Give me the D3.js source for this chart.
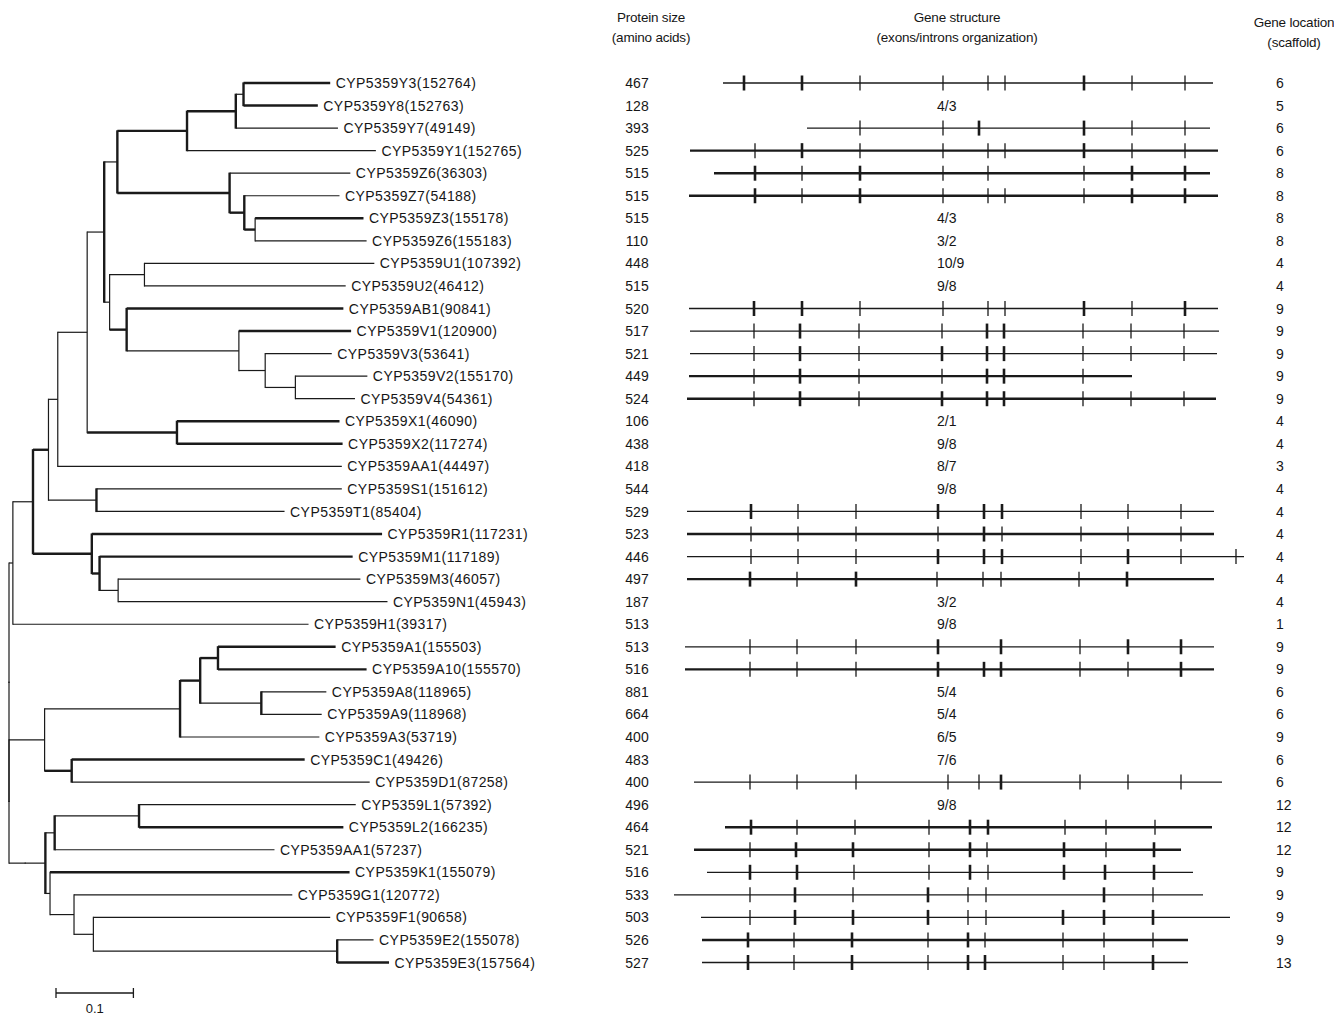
<!DOCTYPE html>
<html>
<head>
<meta charset="utf-8">
<script src="https://cdn.jsdelivr.net/npm/d3@7"></script>
<style>
  body { margin: 0; background: #fff; }
  text { font-family: "Liberation Sans", Arial, sans-serif; fill: #161616; }
</style>
</head>
<body>
<svg id="chart" width="1334" height="1018"></svg>
<script>
// tree (newick, branch lengths in substitutions/site), leaf = name|protein id
var newick =
  "(((((((((((((CYP5359Y3|152764:0.112,CYP5359Y8|152763:0.096)nY2:0.010,CYP5359Y7|49149:0.132)nY1:0.063,CYP5359Y1|152765:0.244)nY:0.090," +
  "(CYP5359Z6|36303:0.156,(CYP5359Z7|54188:0.123,(CYP5359Z3|155178:0.140,CYP5359Z6|155183:0.144)nZ2:0.014)nZ1:0.019)nZ:0.145)nG:0.017," +
  "((CYP5359U1|107392:0.297,CYP5359U2|46412:0.260)nU:0.045," +
  "(CYP5359AB1|90841:0.280,(CYP5359V1|120900:0.145,(CYP5359V3|53641:0.086,(CYP5359V2|155170:0.093,CYP5359V4|54361:0.077)nV2:0.039)nV1:0.034)nV:0.145)nABV:0.022)nH:0.007)nF:0.022," +
  "(CYP5359X1|46090:0.210,CYP5359X2|117274:0.214)nX:0.116)nE:0.038,CYP5359AA1|44497:0.367)nD:0.012," +
  "(CYP5359S1|151612:0.317,CYP5359T1|85404:0.243)nST:0.062)nC:0.020," +
  "(CYP5359R1|117231:0.375,(CYP5359M1|117189:0.327,(CYP5359M3|46057:0.313,CYP5359N1|45943:0.348)nMN:0.024)nM:0.010)nRMN:0.076)nB:0.026," +
  "CYP5359H1|39317:0.382)nA:0.005," +
  "((((((CYP5359A1|155503:0.152,CYP5359A10|155570:0.192)nA1:0.023,(CYP5359A8|118965:0.084,CYP5359A9|118968:0.078)nA8:0.079)nAp:0.026,CYP5359A3|53719:0.180)nAn:0.175," +
  "(CYP5359C1|49426:0.301,CYP5359D1|87258:0.385)nCD:0.035)nAcd:0.046," +
  "((((CYP5359L1|57392:0.280,CYP5359L2|166235:0.264)nL:0.109,CYP5359AA1|57237:0.284)nLAA:0.012," +
  "(CYP5359K1|155079:0.387,(CYP5359G1|120772:0.282,(CYP5359F1|90658:0.306,(CYP5359E2|155078:0.047,CYP5359E3|157564:0.067)nE2:0.315)nFE:0.025)nGFE:0.031)nKG:0.006)nLK:0.026)nLow:0.021)root;";

var proteinSize = [467, 128, 393, 525, 515, 515, 515, 110, 448, 515,
                   520, 517, 521, 449, 524, 106, 438, 418, 544, 529,
                   523, 446, 497, 187, 513, 513, 516, 881, 664, 400,
                   483, 400, 496, 464, 521, 516, 533, 503, 526, 527];

var scaffold = [6, 5, 6, 6, 8, 8, 8, 8, 4, 4,
                9, 9, 9, 9, 9, 4, 4, 3, 4, 4,
                4, 4, 4, 4, 1, 9, 9, 6, 6, 9,
                6, 6, 12, 12, 12, 9, 9, 9, 9, 13];

// exons/introns written as text where no drawing is given
var exonIntron = [null, "4/3", null, null, null, null, "4/3", "3/2", "10/9", "9/8",
                  null, null, null, null, null, "2/1", "9/8", "8/7", "9/8", null,
                  null, null, null, "3/2", "9/8", null, null, "5/4", "5/4", "6/5",
                  "7/6", null, "9/8", null, null, null, null, null, null, null];

// gene extent and intron positions (aligned position units)
var geneSpan = [[63, 553], null, [147, 550], [30, 558], [54, 550], [29, 558], null, null, null, null,
                [29, 558], [30, 559], [30, 557], [29, 472], [27, 556], null, null, null, null, [27, 554],
                [27, 554], [27, 584], [27, 554], null, null, [25, 554], [25, 554], null, null, null,
                null, [34, 562], null, [65, 552], [34, 521], [47, 533], [14, 543], [41, 570], [42, 528], [42, 528]];

var introns = [
  [84, 142, 200, 283, 328, 345, 424, 472, 525], null,
  [200, 283, 319, 424, 472, 525],
  [95, 142, 200, 283, 328, 345, 424, 472, 525],
  [95, 142, 200, 283, 328, 424, 472, 525],
  [95, 142, 200, 283, 328, 345, 424, 472, 525],
  null, null, null, null,
  [94, 142, 200, 283, 328, 345, 424, 472, 525],
  [94, 140, 199, 282, 327, 344, 423, 471, 524],
  [94, 140, 199, 282, 327, 344, 423, 471, 524],
  [94, 140, 199, 282, 327, 344, 423],
  [94, 140, 199, 282, 327, 344, 423, 471, 524],
  null, null, null, null,
  [91, 138, 196, 278, 324, 342, 421, 468, 521],
  [91, 138, 196, 278, 324, 342, 421, 468, 521],
  [91, 138, 196, 278, 324, 342, 421, 468, 521, 576],
  [90, 137, 196, 277, 323, 341, 419, 467],
  null, null,
  [90, 137, 196, 278, 341, 420, 468, 521],
  [90, 137, 196, 278, 324, 341, 420, 468, 521],
  null, null, null, null,
  [90, 137, 196, 288, 319, 341, 420, 468, 521],
  null,
  [91, 137, 195, 269, 310, 328, 405, 446, 495],
  [90, 136, 193, 269, 310, 327, 404, 446, 494],
  [90, 137, 194, 269, 310, 328, 404, 445, 494],
  [90, 135, 193, 268, 308, 326, 444, 493],
  [90, 135, 193, 268, 308, 326, 403, 444, 493],
  [88, 134, 192, 268, 308, 325, 403, 444, 493],
  [88, 134, 192, 268, 308, 325, 403, 444, 493]
];

// drawing style: heavier strokes
var boldTicks = {0: [0, 1, 6], 2: [2, 3], 3: [1, 6], 4: [0, 2, 6, 7], 5: [0, 2, 7, 8],
                 10: [0, 1, 6, 8], 11: [1, 4, 5], 12: [1, 3, 4, 5], 13: [1, 4, 5], 14: [1, 3, 4, 5],
                 19: [0, 3, 4, 5], 20: [4], 21: [3, 4, 5, 7], 22: [0, 2, 7], 25: [3, 4, 6, 7],
                 26: [3, 4, 5, 8], 31: [5], 33: [0, 4, 5], 34: [1, 2, 4, 6, 8], 35: [0, 1, 4, 6, 7, 8],
                 36: [1, 3, 6], 37: [1, 2, 3, 6, 7, 8], 38: [0, 2, 4], 39: [0, 2, 4, 5, 8]};
var thickGene = [3, 4, 5, 13, 14, 20, 22, 26, 33, 34, 38];
var boldEdge = ["CYP5359Y3", "CYP5359Y8", "nY1", "nY", "nZ", "nZ1", "nZ2", "CYP5359Z3", "nABV", "CYP5359AB1",
                "CYP5359V1", "nX", "CYP5359X1", "CYP5359X2", "nC", "nRMN", "CYP5359R1", "CYP5359M1", "nM",
                "CYP5359A1", "CYP5359A10", "nA1", "nAp", "CYP5359C1", "nCD", "CYP5359K1", "CYP5359E3", "CYP5359L2"];
var boldVert = ["nY2", "nY1", "nY", "nG", "nZ", "nZ1", "nF", "nABV", "nX", "nB", "nST", "nRMN", "nM",
                "nA1", "nAp", "nAn", "nA8", "nCD", "nL", "nLAA", "nLK", "nE2"];

function parseNewick(s) {
  var i = 0;
  function node() {
    var n = {};
    if (s[i] === '(') {
      i++;
      n.children = [node()];
      while (s[i] === ',') { i++; n.children.push(node()); }
      i++;
    }
    var name = '';
    while (i < s.length && ':,);'.indexOf(s[i]) < 0) name += s[i++];
    n.name = name;
    n.length = 0;
    if (s[i] === ':') {
      i++;
      var num = '';
      while (i < s.length && ',);'.indexOf(s[i]) < 0) num += s[i++];
      n.length = +num;
    }
    return n;
  }
  return node();
}

var svg = d3.select('#chart');
var ink = '#1a1a1a';

var xTree = d3.scaleLinear().domain([0, 1]).range([9, 783]);
var yRow = d3.scaleLinear().domain([0, 39]).range([83, 962.5]);
var geneX = d3.scaleLinear().domain([0, 600]).range([660, 1260]);

var root = d3.hierarchy(parseNewick(newick));
root.each(function(d) { d.dist = d.parent ? d.parent.dist + d.data.length : 0; });
root.leaves().forEach(function(d, i) { d.row = i; });
root.eachAfter(function(d) {
  d.yy = d.children ? (d.children[0].yy + d.children[d.children.length - 1].yy) / 2 : yRow(d.row);
});

function key(d) { return d.data.name.split('|')[0]; }

var tree = svg.append('g');
// horizontal branches
tree.selectAll('line.h')
  .data(root.descendants().filter(function(d) { return d.parent; }))
  .enter().append('line')
    .attr('x1', function(d) { return xTree(d.parent.dist); })
    .attr('x2', function(d) { return xTree(d.dist); })
    .attr('y1', function(d) { return d.yy; })
    .attr('y2', function(d) { return d.yy; })
    .attr('stroke', ink)
    .attr('stroke-width', function(d) { return boldEdge.indexOf(key(d)) >= 0 ? 2.4 : 1.2; });
// vertical connectors
tree.selectAll('line.v')
  .data(root.descendants().filter(function(d) { return d.children; }))
  .enter().append('line')
    .attr('x1', function(d) { return xTree(d.dist); })
    .attr('x2', function(d) { return xTree(d.dist); })
    .attr('y1', function(d) { return d.children[0].yy - 0.6; })
    .attr('y2', function(d) { return d.children[d.children.length - 1].yy + 0.6; })
    .attr('stroke', ink)
    .attr('stroke-width', function(d) { return boldVert.indexOf(key(d)) >= 0 ? 2.4 : 1.2; });
// leaf labels
tree.selectAll('text')
  .data(root.leaves())
  .enter().append('text')
    .attr('x', function(d) { return xTree(d.dist) + 5.5; })
    .attr('y', function(d) { return d.yy; })
    .attr('dy', '0.36em')
    .attr('font-size', 14)
    .attr('letter-spacing', 0.45)
    .text(function(d) { var p = d.data.name.split('|'); return p[0] + '(' + p[1] + ')'; });

// scale bar
var bar = svg.append('g').attr('stroke', ink).attr('stroke-width', 1.3);
var barLen = xTree(0.1) - xTree(0);
bar.append('line').attr('x1', 56).attr('x2', 56 + barLen).attr('y1', 993).attr('y2', 993);
bar.append('line').attr('x1', 56).attr('x2', 56).attr('y1', 988).attr('y2', 998);
bar.append('line').attr('x1', 56 + barLen).attr('x2', 56 + barLen).attr('y1', 988).attr('y2', 998);
svg.append('text').attr('x', 56 + barLen / 2).attr('y', 1013).attr('text-anchor', 'middle')
  .attr('font-size', 13).text('0.1');

// column headers
var heads = [
  {x: 651, lines: ['Protein size', '(amino acids)'], y: 22},
  {x: 957, lines: ['Gene structure', '(exons/introns organization)'], y: 22},
  {x: 1294, lines: ['Gene location', '(scaffold)'], y: 27}
];
heads.forEach(function(h) {
  h.lines.forEach(function(t, k) {
    svg.append('text').attr('x', h.x).attr('y', h.y + k * 20).attr('text-anchor', 'middle')
      .attr('font-size', 13.5).attr('letter-spacing', -0.2).text(t);
  });
});

var rows = d3.range(proteinSize.length);

// protein size
svg.append('g').selectAll('text').data(rows).enter().append('text')
  .attr('x', 637).attr('y', function(i) { return yRow(i); }).attr('dy', '0.36em')
  .attr('text-anchor', 'middle').attr('font-size', 14)
  .text(function(i) { return proteinSize[i]; });

// gene location
svg.append('g').selectAll('text').data(rows).enter().append('text')
  .attr('x', 1276).attr('y', function(i) { return yRow(i); }).attr('dy', '0.36em')
  .attr('font-size', 14)
  .text(function(i) { return scaffold[i]; });

// exon/intron counts as text
svg.append('g').selectAll('text').data(rows.filter(function(i) { return exonIntron[i]; })).enter().append('text')
  .attr('x', geneX(277)).attr('y', function(i) { return yRow(i); }).attr('dy', '0.36em')
  .attr('font-size', 14)
  .text(function(i) { return exonIntron[i]; });

// gene structures
var genes = svg.append('g').selectAll('g')
  .data(rows.filter(function(i) { return geneSpan[i]; }))
  .enter().append('g');
genes.append('line')
  .attr('x1', function(i) { return geneX(geneSpan[i][0]); })
  .attr('x2', function(i) { return geneX(geneSpan[i][1]); })
  .attr('y1', function(i) { return yRow(i); })
  .attr('y2', function(i) { return yRow(i); })
  .attr('stroke', ink)
  .attr('stroke-width', function(i) { return thickGene.indexOf(i) >= 0 ? 2.4 : 1.3; });
genes.selectAll('line.t')
  .data(function(i) { return introns[i].map(function(p, k) { return {row: i, pos: p, k: k}; }); })
  .enter().append('line')
    .attr('x1', function(d) { return geneX(d.pos); })
    .attr('x2', function(d) { return geneX(d.pos); })
    .attr('y1', function(d) { return yRow(d.row) - 7.5; })
    .attr('y2', function(d) { return yRow(d.row) + 7.5; })
    .attr('stroke', ink)
    .attr('stroke-width', function(d) { return (boldTicks[d.row] || []).indexOf(d.k) >= 0 ? 2.6 : 1.3; });
</script>
</body>
</html>
